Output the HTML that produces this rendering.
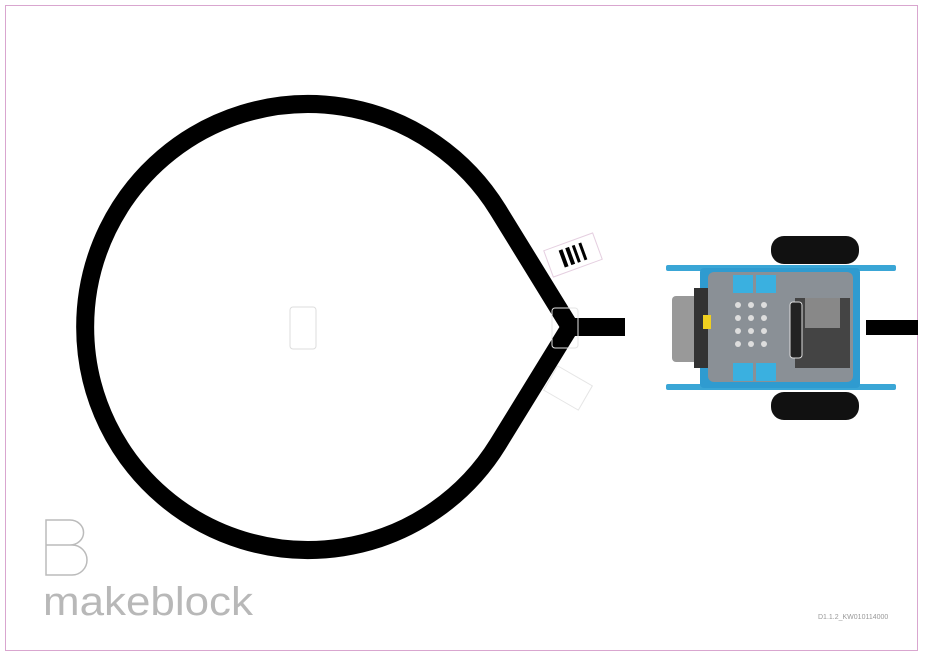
<!DOCTYPE html>
<html><head><style>
body{margin:0;background:#fff;width:925px;height:657px;overflow:hidden;font-family:"Liberation Sans",sans-serif}
</style></head><body>
<svg width="925" height="657" viewBox="0 0 925 657">
<rect x="5.5" y="5.5" width="912" height="645" fill="#fff" stroke="#d9a6cf" stroke-width="1"/>
<path d="M498 210 A223 223 0 1 0 498 444 L570 327 Z M570 327 L625 327" fill="none" stroke="#000" stroke-width="18" stroke-linejoin="miter"/>
<rect x="866" y="320" width="52" height="15" fill="#000"/>
<!-- cards -->
<rect x="290" y="307" width="26" height="42" rx="3" fill="none" stroke="#ddd"/>
<g transform="translate(573,255) rotate(-20)"><rect x="-26" y="-14" width="52" height="28" fill="#fff" stroke="#e5cfe0"/>
<rect x="-12" y="-9" width="4" height="18" fill="#000"/><rect x="-5" y="-9" width="4" height="18" fill="#000"/><rect x="2" y="-9" width="3" height="18" fill="#000"/><rect x="9" y="-9" width="3" height="18" fill="#000"/></g>
<rect x="552" y="308" width="26" height="40" rx="3" fill="none" stroke="#e5e5e5"/>
<g transform="translate(568,388) rotate(30)"><rect x="-20" y="-14" width="40" height="28" fill="none" stroke="#e5e5e5"/></g>
<!-- robot -->
<rect x="771" y="236" width="88" height="28" rx="13" fill="#111"/>
<rect x="771" y="392" width="88" height="28" rx="13" fill="#111"/>
<rect x="666" y="265" width="230" height="6" rx="2" fill="#3aa6d6"/>
<rect x="666" y="384" width="230" height="6" rx="2" fill="#3aa6d6"/>
<rect x="700" y="268" width="160" height="120" rx="4" fill="#2f9bd0"/>
<rect x="672" y="296" width="26" height="66" rx="4" fill="#999"/>
<rect x="694" y="288" width="14" height="80" fill="#333"/>
<rect x="708" y="272" width="145" height="110" rx="6" fill="#8a9096"/>
<rect x="795" y="298" width="55" height="70" fill="#444"/>
<rect x="805" y="298" width="35" height="30" fill="#888"/>
<rect x="733" y="275" width="20" height="18" fill="#3ab0e0"/><rect x="756" y="275" width="20" height="18" fill="#3ab0e0"/>
<rect x="733" y="363" width="20" height="18" fill="#3ab0e0"/><rect x="756" y="363" width="20" height="18" fill="#3ab0e0"/>
<rect x="703" y="315" width="8" height="14" fill="#f0d020"/>
<g fill="#ddd"><circle cx="738" cy="305" r="3"/><circle cx="751" cy="305" r="3"/><circle cx="764" cy="305" r="3"/><circle cx="738" cy="318" r="3"/><circle cx="751" cy="318" r="3"/><circle cx="764" cy="318" r="3"/><circle cx="738" cy="331" r="3"/><circle cx="751" cy="331" r="3"/><circle cx="764" cy="331" r="3"/><circle cx="738" cy="344" r="3"/><circle cx="751" cy="344" r="3"/><circle cx="764" cy="344" r="3"/></g>
<rect x="790" y="302" width="12" height="56" rx="3" fill="#222" stroke="#ddd"/>
<!-- logo -->
<path d="M46 520 H70 A13 12 0 0 1 70 545 H46 Z M46 545 H72 A15 15 0 0 1 72 575 H46 Z" fill="none" stroke="#bbb" stroke-width="1.5"/>
<text x="43" y="615" font-size="40" fill="#b8b8b8" textLength="210" lengthAdjust="spacingAndGlyphs">makeblock</text>
<text x="818" y="619" font-size="7" fill="#999">D1.1.2_KW010114000</text>
</svg>
</body></html>
